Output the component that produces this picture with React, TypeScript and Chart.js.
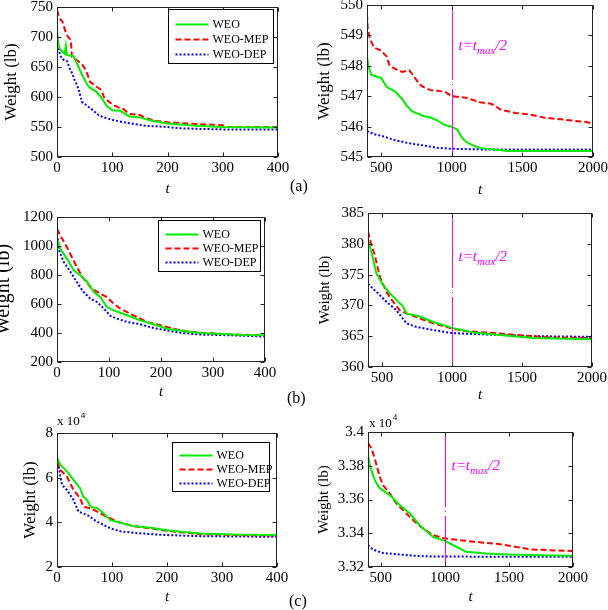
import React, { useEffect, useRef } from 'react';
import { Chart, registerables } from 'chart.js';

Chart.register(...registerables);

const SERIF = '"Liberation Serif", "Times New Roman", serif';

// ---------- (a) left : t 0..400 ----------
const A1_WEO_T = [0, 2, 5, 10, 14, 16, 18, 30, 35, 45, 55, 60, 70, 75, 80, 90, 100, 115, 120, 130, 150, 170, 200, 250, 300, 400];
const A1_WEO_W = [710, 690, 680, 675, 672, 685, 670, 668, 658, 638, 620, 615, 610, 605, 600, 585, 578, 577, 574, 568, 566, 561, 556, 552, 550, 549];
const A1_MEP_T = [0, 3, 6, 10, 15, 20, 25, 27, 35, 45, 50, 55, 60, 65, 70, 80, 85, 90, 100, 110, 120, 130, 150, 160, 180, 200, 250, 300, 310, 400];
const A1_MEP_W = [745, 735, 730, 725, 710, 700, 695, 667, 662, 655, 648, 638, 625, 622, 618, 612, 600, 595, 588, 583, 580, 572, 570, 565, 560, 558, 555, 553, 550, 550];
const A1_DEP_T = [0, 2, 5, 8, 12, 18, 22, 27, 32, 37, 40, 45, 55, 65, 75, 85, 100, 120, 140, 160, 200, 220, 250, 300, 400];
const A1_DEP_W = [708, 685, 672, 665, 662, 660, 650, 640, 628, 618, 610, 592, 585, 578, 570, 566, 562, 558, 555, 552, 550, 548, 547, 546, 546];

// ---------- (a) right : t 400..2000 ----------
const A2_WEO_T = [400, 410, 430, 500, 540, 600, 650, 680, 720, 800, 850, 900, 950, 1000, 1040, 1070, 1100, 1150, 1200, 1300, 1400, 2000];
const A2_WEO_W = [548.3, 548.0, 547.7, 547.6, 547.3, 547.15, 546.9, 546.7, 546.5, 546.35, 546.3, 546.2, 546.05, 546.0, 545.9, 545.65, 545.5, 545.38, 545.3, 545.25, 545.2, 545.2];
const A2_MEP_T = [400, 405, 420, 450, 500, 540, 560, 600, 650, 700, 740, 770, 800, 850, 950, 1000, 1100, 1200, 1280, 1350, 1450, 1550, 1650, 1750, 1850, 1950, 2000];
const A2_MEP_W = [549.7, 549.2, 548.9, 548.6, 548.5, 548.3, 548.0, 547.9, 547.8, 547.85, 547.6, 547.4, 547.3, 547.2, 547.15, 547.0, 546.95, 546.8, 546.75, 546.55, 546.45, 546.4, 546.3, 546.25, 546.2, 546.15, 546.1];
const A2_DEP_T = [400, 450, 500, 600, 700, 800, 900, 1000, 1200, 2000];
const A2_DEP_W = [545.85, 545.75, 545.7, 545.55, 545.45, 545.38, 545.3, 545.27, 545.25, 545.25];

// ---------- (b) left ----------
const B1_WEO_T = [0, 6, 19, 32, 45, 58, 71, 83, 96, 109, 135, 160, 186, 212, 250, 276, 340, 360, 400];
const B1_WEO_W = [1050, 982, 913, 832, 798, 752, 683, 648, 579, 556, 522, 487, 460, 430, 411, 400, 389, 386, 384];
const B1_MEP_T = [0, 5, 10, 19, 38, 51, 67, 83, 96, 109, 122, 147, 173, 199, 224, 250, 276, 340, 400];
const B1_MEP_W = [1120, 1080, 1050, 993, 855, 775, 706, 671, 648, 602, 568, 522, 476, 453, 430, 411, 402, 389, 384];
const B1_DEP_T = [0, 5, 13, 26, 38, 51, 64, 77, 90, 103, 115, 135, 160, 186, 212, 237, 276, 340, 400];
const B1_DEP_W = [1080, 959, 890, 821, 752, 683, 637, 614, 568, 517, 499, 476, 460, 434, 418, 402, 389, 384, 375];

// ---------- (b) right ----------
const B2_WEO_T = [400, 424, 460, 508, 555, 603, 651, 675, 770, 866, 1000, 1152, 1343, 1582, 2000];
const B2_WEO_W = [380.6, 378.7, 375.2, 373.3, 372, 370.9, 369.8, 368.7, 368.2, 367.3, 366.35, 365.6, 365.2, 364.7, 364.5];
const B2_MEP_T = [400, 424, 448, 484, 531, 579, 627, 675, 770, 866, 1000, 1104, 1248, 1463, 1702, 2000];
const B2_MEP_W = [382, 379.8, 378.2, 374.7, 372.2, 370.6, 369.2, 368.7, 367.9, 367.1, 366.25, 365.8, 365.6, 365.2, 364.8, 364.7];
const B2_DEP_T = [400, 460, 531, 603, 675, 746, 866, 1000, 1224, 1582, 2000];
const B2_DEP_W = [373.5, 372.2, 370.6, 369.2, 367.1, 366.5, 366.0, 365.5, 365.3, 365.0, 364.9];

// ---------- (c) left (lb) ----------
const C1_WEO_T = [0, 6, 18, 30, 42, 48, 55, 61, 73, 85, 97, 115, 139, 170, 200, 218, 261, 321, 400];
const C1_WEO_W = [68800, 65800, 62800, 59000, 55300, 51500, 50000, 47000, 46300, 44000, 41000, 39800, 38300, 37600, 36500, 36000, 35000, 34500, 34300];
const C1_MEP_T = [0, 6, 18, 30, 42, 48, 61, 79, 97, 115, 139, 170, 200, 230, 261, 321, 400];
const C1_MEP_W = [67300, 63500, 60500, 54500, 50800, 47000, 46300, 44000, 41800, 39800, 38300, 37300, 36200, 35500, 34700, 34300, 34100];
const C1_DEP_T = [0, 4, 9, 18, 30, 39, 55, 73, 97, 115, 139, 170, 200, 261, 400];
const C1_DEP_W = [70300, 63500, 56800, 54500, 50000, 44800, 43300, 40300, 37300, 36000, 35300, 34700, 34300, 33800, 33500];

// ---------- (c) right (lb) ----------
const C2_WEO_T = [400, 413, 452, 491, 569, 647, 725, 803, 907, 1000, 1089, 1167, 1324, 1500, 1844, 2000];
const C2_WEO_W = [33865, 33805, 33716, 33667, 33627, 33567, 33518, 33448, 33379, 33355, 33320, 33290, 33280, 33274, 33268, 33266];
const C2_MEP_T = [400, 426, 452, 491, 517, 569, 621, 673, 751, 829, 907, 1000, 1167, 1428, 1688, 2000];
const C2_MEP_W = [33935, 33905, 33845, 33736, 33686, 33637, 33577, 33538, 33478, 33428, 33389, 33369, 33355, 33335, 33303, 33295];
const C2_DEP_T = [400, 439, 517, 647, 777, 907, 2000];
const C2_DEP_W = [33329, 33303, 33283, 33274, 33266, 33262, 33260];

// ---------- ticks ----------
const X_TICKS_SHORT = [0, 100, 200, 300, 400];
const X_TICKS_LONG = [500, 1000, 1500, 2000];
const A1_Y_TICKS = [500, 550, 600, 650, 700, 750];
const A2_Y_TICKS = [545, 546, 547, 548, 549, 550];
const B1_Y_TICKS = [200, 400, 600, 800, 1000, 1200];
const B2_Y_TICKS = [360, 365, 370, 375, 380, 385];
const C1_Y_TICKS = [20000, 40000, 60000, 80000];
const C2_Y_TICKS = [33200, 33400, 33600, 33800, 34000];

const SERIES_LABELS = ['WEO', 'WEO-MEP', 'WEO-DEP'];
const SERIES_COLORS = ['#00ee00', '#ff0000', '#0000ff'];
const SERIES_DASH: number[][] = [[], [6, 3], [2, 2]];

const PAD_TOP = 20;
const TICK_SIZE = 15;
const X_TITLE_LH = 18;

const decor = {
  id: 'decor',
  afterDatasetsDraw(chart: any, _args: any, o: any) {
    if (!o || o.vline == null) return;
    const { ctx, chartArea: a } = chart;
    const x = Math.round(chart.scales.x.getPixelForValue(o.vline)) + 0.5;
    ctx.save();
    ctx.strokeStyle = '#ff00ff';
    ctx.lineWidth = 1;
    ctx.setLineDash([75, 4, 1, 4]);
    ctx.beginPath();
    ctx.moveTo(x, a.top);
    ctx.lineTo(x, a.bottom);
    ctx.stroke();
    ctx.setLineDash([]);
    ctx.fillStyle = '#ff00ff';
    ctx.textAlign = 'left';
    ctx.textBaseline = 'alphabetic';
    const bx = x + 6;
    const by = a.top + o.textDy;
    ctx.font = `italic 15px ${SERIF}`;
    ctx.fillText('t=t', bx, by);
    const w1 = ctx.measureText('t=t').width;
    ctx.font = `italic 11px ${SERIF}`;
    ctx.fillText('max', bx + w1, by + 4);
    const w2 = ctx.measureText('max').width;
    ctx.font = `italic 15px ${SERIF}`;
    ctx.fillText('/2', bx + w1 + w2, by);
    ctx.restore();
  },
  afterDraw(chart: any, _args: any, o: any) {
    const { ctx, chartArea: a } = chart;
    const xs = chart.scales.x;
    const ys = chart.scales.y;
    ctx.save();
    ctx.strokeStyle = '#222';
    ctx.lineWidth = 1;
    const L = Math.round(a.left) + 0.5;
    const R = Math.round(a.right) - 0.5;
    const T = Math.round(a.top) + 0.5;
    const B = Math.round(a.bottom) - 0.5;
    ctx.strokeRect(L, T, R - L, B - T);
    ctx.beginPath();
    xs.ticks.forEach((t: any) => {
      const px = Math.round(xs.getPixelForValue(t.value)) + 0.5;
      ctx.moveTo(px, B); ctx.lineTo(px, B - 4);
      ctx.moveTo(px, T); ctx.lineTo(px, T + 4);
    });
    ys.ticks.forEach((t: any) => {
      const py = Math.round(ys.getPixelForValue(t.value)) + 0.5;
      ctx.moveTo(L, py); ctx.lineTo(L + 4, py);
      ctx.moveTo(R, py); ctx.lineTo(R - 4, py);
    });
    ctx.stroke();

    if (o && o.legend) {
      const lg = o.legend;
      const bx = Math.round(a.right - lg.right - lg.w) + 0.5;
      const by = Math.round(a.top + lg.top) + 0.5;
      ctx.fillStyle = '#fff';
      ctx.fillRect(bx, by, lg.w, lg.h);
      ctx.strokeStyle = '#000';
      ctx.strokeRect(bx, by, lg.w, lg.h);
      ctx.font = `12px ${SERIF}`;
      ctx.textAlign = 'left';
      ctx.textBaseline = 'middle';
      chart.data.datasets.forEach((ds: any, i: number) => {
        const ry = Math.round(by + lg.h * (0.26 + i * 0.28)) + 0.5;
        ctx.strokeStyle = ds.borderColor;
        ctx.lineWidth = 2;
        ctx.setLineDash(ds.borderDash || []);
        ctx.beginPath();
        ctx.moveTo(bx + 7, ry);
        ctx.lineTo(bx + 40, ry);
        ctx.stroke();
        ctx.setLineDash([]);
        ctx.fillStyle = '#000';
        ctx.fillText(ds.label, bx + 44, ry);
      });
    }
    if (o && o.expo) {
      ctx.fillStyle = '#000';
      ctx.textAlign = 'left';
      ctx.textBaseline = 'alphabetic';
      ctx.font = `13px ${SERIF}`;
      const ex = a.left + o.expo.dx;
      const ey = a.top + o.expo.dy;
      ctx.fillText('x 10', ex, ey);
      const w = ctx.measureText('x 10').width;
      ctx.font = `9px ${SERIF}`;
      ctx.fillText('4', ex + w + 1, ey - 7);
    }
    ctx.restore();
  },
};

type Series = { t: number[]; w: number[] };
type Panel = {
  box: [number, number, number, number];
  cx: number;
  cw: number;
  xMin: number;
  xMax: number;
  xTicks: number[];
  yMin: number;
  yMax: number;
  yTicks: number[];
  yTitleX: number;
  yTitleSize: number;
  xTitleY: number;
  series: Series[];
  legend?: { right: number; top: number; w: number; h: number };
  vline?: number;
  textDy?: number;
  expo?: { dx: number; dy: number };
  scaled?: boolean;
};

const PANELS: Panel[] = [
  {
    box: [57, 7, 278, 157], cx: -20, cw: 330,
    xMin: 0, xMax: 400, xTicks: X_TICKS_SHORT, yMin: 500, yMax: 750, yTicks: A1_Y_TICKS,
    yTitleX: 12, yTitleSize: 17, xTitleY: 189,
    series: [{ t: A1_WEO_T, w: A1_WEO_W }, { t: A1_MEP_T, w: A1_MEP_W }, { t: A1_DEP_T, w: A1_DEP_W }],
    legend: { right: 5, top: 2, w: 105, h: 54 },
  },
  {
    box: [367, 5, 593, 157], cx: 300, cw: 320,
    xMin: 400, xMax: 2000, xTicks: X_TICKS_LONG, yMin: 545, yMax: 550, yTicks: A2_Y_TICKS,
    yTitleX: 325, yTitleSize: 17, xTitleY: 190,
    series: [{ t: A2_WEO_T, w: A2_WEO_W }, { t: A2_MEP_T, w: A2_MEP_W }, { t: A2_DEP_T, w: A2_DEP_W }],
    vline: 1000, textDy: 45,
  },
  {
    box: [57, 217, 265, 362], cx: -20, cw: 330,
    xMin: 0, xMax: 400, xTicks: X_TICKS_SHORT, yMin: 200, yMax: 1200, yTicks: B1_Y_TICKS,
    yTitleX: 4, yTitleSize: 20, xTitleY: 392,
    series: [{ t: B1_WEO_T, w: B1_WEO_W }, { t: B1_MEP_T, w: B1_MEP_W }, { t: B1_DEP_T, w: B1_DEP_W }],
    legend: { right: 5, top: 3, w: 102, h: 51 },
  },
  {
    box: [368, 213, 592, 367], cx: 300, cw: 320,
    xMin: 400, xMax: 2000, xTicks: X_TICKS_LONG, yMin: 360, yMax: 385, yTicks: B2_Y_TICKS,
    yTitleX: 325, yTitleSize: 15, xTitleY: 395,
    series: [{ t: B2_WEO_T, w: B2_WEO_W }, { t: B2_MEP_T, w: B2_MEP_W }, { t: B2_DEP_T, w: B2_DEP_W }],
    vline: 1000, textDy: 48,
  },
  {
    box: [57, 433, 277, 567], cx: -20, cw: 330,
    xMin: 0, xMax: 400, xTicks: X_TICKS_SHORT, yMin: 20000, yMax: 80000, yTicks: C1_Y_TICKS,
    yTitleX: 31, yTitleSize: 17, xTitleY: 597,
    series: [{ t: C1_WEO_T, w: C1_WEO_W }, { t: C1_MEP_T, w: C1_MEP_W }, { t: C1_DEP_T, w: C1_DEP_W }],
    legend: { right: 8, top: 9, w: 97, h: 49 },
    expo: { dx: 0, dy: -8 }, scaled: true,
  },
  {
    box: [368, 432, 573, 567], cx: 300, cw: 320,
    xMin: 400, xMax: 2000, xTicks: X_TICKS_LONG, yMin: 33200, yMax: 34000, yTicks: C2_Y_TICKS,
    yTitleX: 324, yTitleSize: 15, xTitleY: 597,
    series: [{ t: C2_WEO_T, w: C2_WEO_W }, { t: C2_MEP_T, w: C2_MEP_W }, { t: C2_DEP_T, w: C2_DEP_W }],
    vline: 1000, textDy: 38,
    expo: { dx: 1, dy: -5 }, scaled: true,
  },
];

function ChartPanel({ p }: { p: Panel }) {
  const ref = useRef<HTMLCanvasElement>(null);
  const [l, t, r, b] = p.box;
  const top = t - PAD_TOP;
  const xAxisH = p.xTitleY + X_TITLE_LH / 2 - b;
  const height = Math.round(b + xAxisH - top);
  const yLH = p.yTitleSize * 1.2;
  const padLeft = p.yTitleX - yLH / 2 - p.cx;
  const yAxisW = l - p.cx - padLeft;
  const padRight = p.cx + p.cw - r;

  useEffect(() => {
    const tickFont = { family: SERIF, size: TICK_SIZE };
    const chart = new Chart(ref.current as HTMLCanvasElement, {
      type: 'line',
      data: {
        datasets: p.series.map((s, i) => ({
          label: SERIES_LABELS[i],
          data: s.t.map((x, j) => ({ x, y: s.w[j] })),
          borderColor: SERIES_COLORS[i],
          borderDash: SERIES_DASH[i],
          borderWidth: 2,
          pointRadius: 0,
          fill: false,
          tension: 0,
        })),
      },
      options: {
        responsive: false,
        animation: false,
        devicePixelRatio: 1,
        layout: { padding: { left: padLeft, right: padRight, top: PAD_TOP, bottom: 0 } },
        plugins: {
          legend: { display: false },
          tooltip: { enabled: false },
          decor: { legend: p.legend, vline: p.vline, textDy: p.textDy, expo: p.expo },
        } as any,
        scales: {
          x: {
            type: 'linear',
            min: p.xMin,
            max: p.xMax,
            grid: { display: false, drawTicks: false },
            border: { display: false },
            ticks: {
              font: tickFont, color: '#000', padding: 2, maxRotation: 0, autoSkip: false,
              callback: (v: any) => String(v),
            },
            afterBuildTicks: (s: any) => { s.ticks = p.xTicks.map((v) => ({ value: v })); },
            afterFit: (s: any) => { s.height = xAxisH; },
            title: { display: true, text: 't', color: '#000', padding: 0, font: { family: SERIF, size: 15, style: 'italic' } },
          },
          y: {
            type: 'linear',
            min: p.yMin,
            max: p.yMax,
            grid: { display: false, drawTicks: false },
            border: { display: false },
            ticks: {
              font: tickFont, color: '#000', padding: 4, autoSkip: false,
              callback: (v: any) => (p.scaled ? String(parseFloat((Number(v) / 10000).toFixed(2))) : String(v)),
            },
            afterBuildTicks: (s: any) => { s.ticks = p.yTicks.map((v) => ({ value: v })); },
            afterFit: (s: any) => { s.width = yAxisW; },
            title: { display: true, text: 'Weight (lb)', color: '#000', padding: 0, font: { family: SERIF, size: p.yTitleSize } },
          },
        },
      } as any,
      plugins: [decor as any],
    });
    return () => chart.destroy();
  }, []);

  return (
    <canvas
      ref={ref}
      width={p.cw}
      height={height}
      style={{ position: 'absolute', left: p.cx, top, width: p.cw, height }}
    />
  );
}

const PANEL_TAGS = [
  { text: '(a)', x: 290, y: 186 },
  { text: '(b)', x: 287, y: 398 },
  { text: '(c)', x: 289, y: 601 },
];

export default function App() {
  return (
    <div style={{ position: 'absolute', left: 0, top: 0, width: 608, height: 610, overflow: 'hidden', background: '#fff' }}>
      {PANELS.map((p, i) => (
        <ChartPanel key={i} p={p} />
      ))}
      {PANEL_TAGS.map((tg) => (
        <div
          key={tg.text}
          style={{ position: 'absolute', left: tg.x, top: tg.y - 9, lineHeight: '18px', fontFamily: SERIF, fontSize: 16, color: '#000' }}
        >
          {tg.text}
        </div>
      ))}
    </div>
  );
}
